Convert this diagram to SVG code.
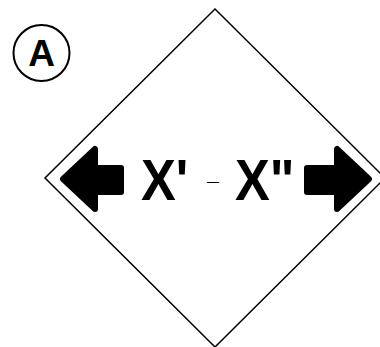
<svg xmlns="http://www.w3.org/2000/svg" width="380" height="347" viewBox="0 0 380 347">
<style>
.bold{font-family:"Liberation Sans",Arial,sans-serif;font-weight:bold;fill:#000}
.reg{font-family:"Liberation Sans",Arial,sans-serif;fill:#000}
.arrow{fill:#000;stroke:#000;stroke-width:6;stroke-linejoin:round}
</style>
<rect width="380" height="347" fill="#fff"/>
<g id="sign">
<polygon points="215,9 385,178 215,347 45,178" fill="#fff" stroke="#000" stroke-width="1.5"/>
</g>
<g id="label-a">
<circle cx="41.5" cy="53" r="28" fill="none" stroke="#000" stroke-width="2"/>
<text class="bold" x="41.5" y="66" font-size="37" text-anchor="middle">A</text>
</g>
<g id="arrow-left">
<path class="arrow" d="M63,179 L95,149 L95,168 L121,168 L121,192 L95,192 L95,209 Z"/>
</g>
<g id="arrow-right">
<path class="arrow" d="M369,179 L337,149 L337,168 L307,168 L307,192 L337,192 L337,209 Z"/>
</g>
<g id="text">
<text class="bold" font-size="58" transform="translate(141,200) scale(0.9,1)">X'</text>
<text class="reg" x="207" y="186" font-size="12">—</text>
<text class="bold" font-size="58" transform="translate(235,200) scale(0.9,1)">X"</text>
</g>
</svg>
